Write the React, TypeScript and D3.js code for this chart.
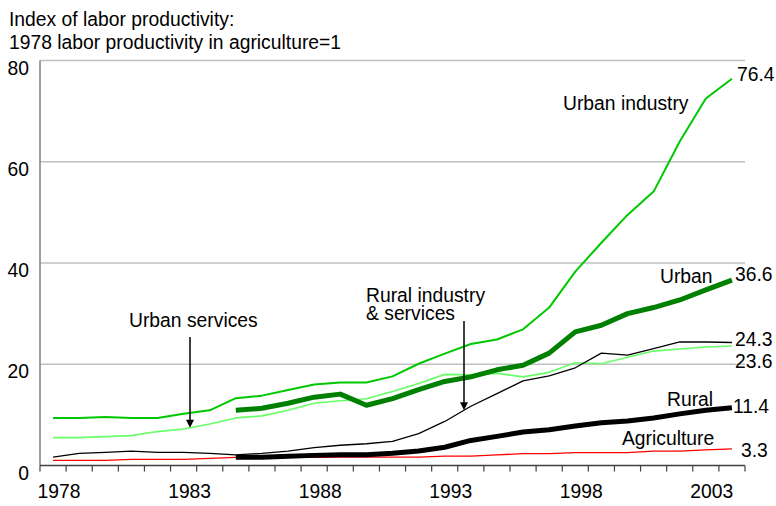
import React from "react";
import * as d3 from "d3";

const years: number[] = d3.range(1978, 2005);
const tickYears: number[] = [1978, 1983, 1988, 1993, 1998, 2003];
const yTicks: number[] = [0, 20, 40, 60, 80];

const urbanIndustry: (number | null)[] = [9.4, 9.4, 9.6, 9.4, 9.4, 10.2, 10.9, 13.3, 13.8, 14.9, 16.0, 16.4, 16.4, 17.6, 20.1, 22.1, 24.0, 24.9, 26.9, 31.2, 38.3, 44.0, 49.5, 54.1, 64.0, 72.5, 76.4];
const urbanServices: (number | null)[] = [5.5, 5.5, 5.7, 5.9, 6.7, 7.2, 8.2, 9.4, 9.8, 10.9, 12.3, 12.8, 13.2, 14.6, 16.2, 18.0, 17.9, 18.2, 17.5, 18.4, 20.3, 20.1, 21.4, 22.6, 23.0, 23.4, 23.6];
const urban: (number | null)[] = [null, null, null, null, null, null, null, 10.9, 11.3, 12.3, 13.5, 14.1, 11.9, 13.2, 15.0, 16.6, 17.5, 18.9, 19.8, 22.2, 26.4, 27.7, 30.0, 31.2, 32.7, 34.7, 36.6];
const ruralIndustryServices: (number | null)[] = [1.65, 2.4, 2.6, 2.85, 2.6, 2.6, 2.4, 2.1, 2.4, 2.85, 3.55, 4.0, 4.3, 4.75, 6.3, 8.7, 11.7, 14.2, 16.7, 17.7, 19.3, 22.2, 21.8, 23.1, 24.4, 24.4, 24.3];
const rural: (number | null)[] = [null, null, null, null, null, null, null, 1.65, 1.65, 1.85, 2.0, 2.1, 2.1, 2.4, 2.85, 3.6, 4.95, 5.75, 6.6, 7.05, 7.8, 8.45, 8.8, 9.4, 10.2, 10.9, 11.4];
const agriculture: (number | null)[] = [1.0, 1.0, 1.0, 1.2, 1.2, 1.2, 1.4, 1.6, 1.6, 1.6, 1.6, 1.65, 1.65, 1.65, 1.65, 1.85, 1.85, 2.1, 2.35, 2.35, 2.55, 2.55, 2.55, 2.85, 2.85, 3.1, 3.3];

const endLabels: string[] = ["76.4", "36.6", "24.3", "23.6", "11.4", "3.3"];
const titleLines: string[] = ["Index of labor productivity:", "1978 labor productivity in agriculture=1"];

const FONT = "'Liberation Sans', Arial, sans-serif";
const FS = 21;
const SX = 0.92;

const W = 776;
const H = 506;
const left = 40;
const right = 745;
const top = 60.5;
const bottom = 465.5;

function T(props: { x: number; y: number; anchor?: string; baseline?: string; children: React.ReactNode }) {
  const { x, y, anchor, baseline, children } = props;
  return (
    <text
      transform={`translate(${x},${y}) scale(${SX},1)`}
      fontSize={FS}
      fill="#000"
      textAnchor={anchor || "start"}
      dominantBaseline={baseline || "auto"}
    >
      {children}
    </text>
  );
}

export default function App() {
  const x = d3.scaleBand<number>().domain(years).range([left, right]).padding(0);
  const cx = (yr: number) => (x(yr) as number) + x.bandwidth() / 2;
  const y = d3.scaleLinear().domain([0, 80]).range([bottom, top]);

  const lineGen = d3
    .line<number | null>()
    .defined((d) => d !== null)
    .x((_, i) => cx(years[i]))
    .y((d) => y(d as number));

  const series = [
    { data: urbanServices, color: "#66ff66", width: 1.6 },
    { data: urbanIndustry, color: "#00c800", width: 2 },
    { data: urban, color: "#008000", width: 5 },
    { data: agriculture, color: "#ff0000", width: 1.3 },
    { data: ruralIndustryServices, color: "#000000", width: 1.3 },
    { data: rural, color: "#000000", width: 5 },
  ];

  const interp = (data: (number | null)[], px: number) => {
    const pts = years
      .map((yr, i) => [cx(yr), data[i]] as [number, number | null])
      .filter((p) => p[1] !== null) as [number, number][];
    for (let i = 0; i < pts.length - 1; i++) {
      if (px >= pts[i][0] && px <= pts[i + 1][0]) {
        const t = (px - pts[i][0]) / (pts[i + 1][0] - pts[i][0]);
        return y(pts[i][1] + t * (pts[i + 1][1] - pts[i][1]));
      }
    }
    return y(pts[0][1]);
  };

  const lastX = cx(2004);
  const endSeries = [urbanIndustry, urban, ruralIndustryServices, urbanServices, rural, agriculture];
  const endDx = [5, 3, 3, 3, 1, 9];
  const endDy = [-3, -5, -2, 16, 0, 3];

  const arrows = [
    { x: 190, y0: 337, data: urbanServices },
    { x: 464, y0: 321, data: ruralIndustryServices },
  ];

  return (
    <svg width={W} height={H} style={{ position: "absolute", left: 0, top: 0, background: "#fff" }} fontFamily={FONT}>
      <rect x={0} y={0} width={W} height={H} fill="#fff" />
      {titleLines.map((t, i) => (
        <T key={t} x={9} y={26 + i * 22.5}>
          {t}
        </T>
      ))}
      {yTicks
        .filter((v) => v > 0)
        .map((v) => (
          <line key={v} x1={left} x2={right} y1={y(v)} y2={y(v)} stroke="#c0c0c0" strokeWidth={1.5} />
        ))}
      {yTicks.map((v) => (
        <T key={v} x={29} y={y(v) + 14} anchor="end">
          {v}
        </T>
      ))}
      <line x1={left} x2={left} y1={top} y2={bottom} stroke="#808080" strokeWidth={1.5} />
      <line x1={left} x2={right} y1={bottom} y2={bottom} stroke="#404040" strokeWidth={1.5} />
      {[...years, 2005].map((yr, i) => {
        const px = left + i * x.bandwidth();
        return <line key={yr} x1={px} x2={px} y1={bottom} y2={bottom + 6} stroke="#404040" strokeWidth={1.2} />;
      })}
      {tickYears.map((yr) => (
        <T key={yr} x={cx(yr) + 6} y={498} anchor="middle">
          {yr}
        </T>
      ))}
      {series.map((s, i) => (
        <path key={i} d={lineGen(s.data) || ""} fill="none" stroke={s.color} strokeWidth={s.width} strokeLinejoin="round" />
      ))}
      {endLabels.map((t, i) => {
        const d = endSeries[i];
        const v = d[d.length - 1] as number;
        return (
          <T key={t} x={lastX + endDx[i]} y={y(v) + endDy[i]} baseline="middle">
            {t}
          </T>
        );
      })}
      <T x={563} y={110}>Urban industry</T>
      <T x={660} y={283}>Urban</T>
      <T x={667} y={406}>Rural</T>
      <T x={622} y={445}>Agriculture</T>
      <T x={129} y={327}>Urban services</T>
      <T x={366} y={302}>Rural industry</T>
      <T x={366} y={320}>&amp; services</T>
      {arrows.map((a, i) => {
        const tip = interp(a.data, a.x);
        return (
          <g key={i}>
            <line x1={a.x} x2={a.x} y1={a.y0} y2={tip - 6} stroke="#000" strokeWidth={1.5} />
            <path d={`M${a.x - 4},${tip - 8} L${a.x + 4},${tip - 8} L${a.x},${tip} Z`} fill="#000" />
          </g>
        );
      })}
    </svg>
  );
}
